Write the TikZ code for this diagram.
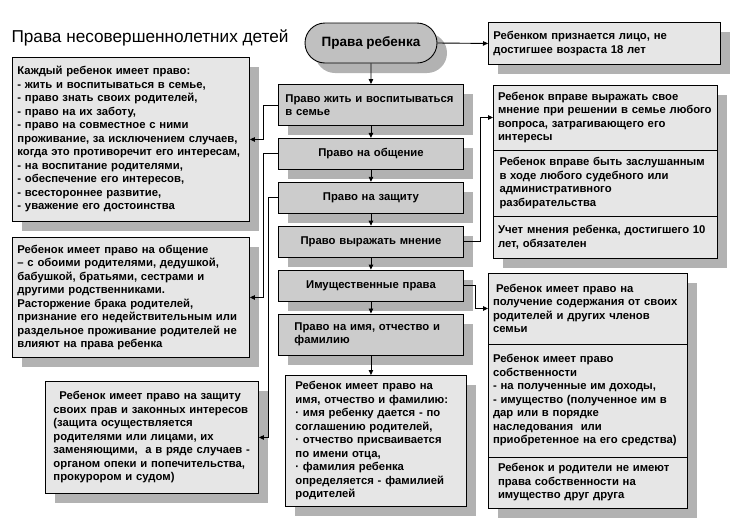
\documentclass[tikz,border=0pt]{standalone}
\usepackage{fontspec}
\setmainfont{Liberation Sans}
\usetikzlibrary{positioning,shadows,arrows.meta}
\definecolor{rootgrey}{HTML}{C0C0C0}
\definecolor{boxgrey}{HTML}{CCCCCC}
\definecolor{notegrey}{HTML}{E6E6E6}
\definecolor{shadowgrey}{HTML}{B2B2B2}
\tikzset{
	box shadow/.style = {
		drop shadow={shadow xshift=10pt, shadow yshift=-10pt,
			fill=shadowgrey, opacity=1}
	},
	every node/.style = {
		font=\bfseries\fontsize{11.3}{13.5}\selectfont
	},
	heading/.style = {
		anchor=west,
		font=\fontsize{17.2}{20}\selectfont
	},
	rootbox/.style = {
		shape=rectangle,
		draw,
		line width=0.9pt,
		rounded corners=20pt,
		fill=rootgrey,
		box shadow,
		minimum width=132pt,
		minimum height=40pt,
		font=\bfseries\fontsize{13.5}{16}\selectfont
	},
	rightbox/.style = {
		shape=rectangle,
		draw,
		line width=0.9pt,
		fill=boxgrey,
		box shadow,
		text width=175pt,
		inner xsep=5pt,
		align=center,
		minimum height=31pt
	},
	notebox/.style = {
		shape=rectangle,
		draw,
		line width=0.9pt,
		fill=notegrey,
		box shadow,
		anchor=north west,
		inner xsep=5pt,
		align=left
	},
	stackbox/.style = {
		notebox,
		outer sep=0pt
	},
	conn/.style = {
		draw,
		line width=0.9pt,
		-{Triangle[length=5pt,width=4.5pt]}
	}
}
\begin{document}
\begin{tikzpicture}[x=1pt, y=-1pt]
\useasboundingbox (0,0) rectangle (730,520);

\node[heading] (head) at (8,38) {Права несовершеннолетних детей};

% main column
\node[rootbox] (root) at (371,43) {Права ребенка};
\node[rightbox, anchor=north west, align=left, minimum height=41pt, inner xsep=7pt, text width=171pt] (c1) at (278,84)
	{Право жить и воспитываться\\в семье};
\node[rightbox, below=12pt of c1] (c2) {Право на общение};
\node[rightbox, below=12pt of c2] (c3) {Право на защиту};
\node[rightbox, below=12pt of c3] (c4) {Право выражать мнение};
\node[rightbox, below=12pt of c4] (c5) {Имущественные права};
\node[rightbox, below=12pt of c5, align=left, minimum height=41pt, inner xsep=16pt, text width=153pt] (c6)
	{Право на имя, отчество и\\фамилию};
\node[notebox, text width=161pt, inner xsep=10pt, minimum height=131pt] (name) at (285,375)
	{Ребенок имеет право на\\имя, отчество и фамилию:\\· имя ребенку дается - по\\соглашению родителей,\\· отчество присваивается\\по имени отца,\\· фамилия ребенка\\определяется - фамилией\\родителей};

% age
\node[notebox, text width=222pt, minimum height=42pt] (age) at (488,22)
	{Ребенком признается лицо, не\\достигшее возраста 18 лет};

% left notes
\node[notebox, text width=227pt, minimum height=164pt] (family) at (12,57)
	{Каждый ребенок имеет право:\\- жить и воспитываться в семье,\\- право знать своих родителей,\\- право на их заботу,\\- право на совместное с ними\\проживание, за исключением случаев,\\когда это противоречит его интересам,\\- на воспитание родителями,\\- обеспечение его интересов,\\- всестороннее развитие,\\- уважение его достоинства};
\node[notebox, text width=227pt, minimum height=120pt] (contact) at (12,237)
	{Ребенок имеет право на общение\\– с обоими родителями, дедушкой,\\бабушкой, братьями, сестрами и\\другими родственниками.\\Расторжение брака родителей,\\признание его недействительным или\\раздельное проживание родителей не\\влияют на права ребенка};
\node[notebox, text width=197pt, inner xsep=8pt, minimum height=112pt] (defence) at (45,381)
	{\hspace{6pt}Ребенок имеет право на защиту\\своих прав и законных интересов\\(защита осуществляется\\родителями или лицами, их\\заменяющими,\ \ а в ряде случаев -\\органом опеки и попечительства,\\прокурором и судом)};

% opinion group
\node[stackbox, text width=214pt, minimum height=65pt] (opinA) at (493,85)
	{Ребенок вправе выражать свое\\мнение при решении в семье любого\\вопроса, затрагивающего его\\интересы};
\node[stackbox, below=0pt of opinA, anchor=north, text width=211pt, inner xsep=6.5pt, minimum height=66pt] (opinB)
	{Ребенок вправе быть заслушанным\\в ходе любого судебного или\\административного\\разбирательства};
\node[stackbox, below=0pt of opinB, anchor=north, text width=214pt, minimum height=42pt] (opinC)
	{Учет мнения ребенка, достигшего 10\\лет, обязателен};

% property group
\node[stackbox, text width=189pt, minimum height=71pt] (propA) at (488,273)
	{\hspace{3pt}Ребенок имеет право на\\получение содержания от своих\\родителей и других членов\\семьи};
\node[stackbox, below=0pt of propA, anchor=north, text width=189pt, minimum height=113pt] (propB)
	{Ребенок имеет право\\собственности\\- на полученные им доходы,\\- имущество (полученное им в\\дар или в порядке\\наследования\ \ или\\приобретенное на его средства)};
\node[stackbox, below=0pt of propB, anchor=north, text width=179pt, inner xsep=10pt, minimum height=51pt] (propC)
	{Ребенок и родители не имеют\\права собственности на\\имущество друг друга};

% connectors
\draw[conn] (root.east) -- (age.west);
\draw[conn] (root.south) -- (c1.north);
\foreach \a/\b in {c1/c2, c2/c3, c3/c4, c4/c5, c5/c6}
	\draw[conn] (\a) -- (\b);
\draw[conn] (c6.south) -- (c6.south |- name.north);
\draw[conn] (c1.west) -- ++(-15pt,0pt) |- (family.east);
\draw[conn] (c2.west) -- ++(-15pt,0pt) |- (contact.east);
\draw[conn] (c3.west) -- ++(-10pt,0pt) |- (defence.east);
\draw[conn] (c4.east) -- ++(17pt,0pt) |- (opinA.west);
\draw[conn] (c5.east) -- ++(12pt,0pt) |- (propA.west);
\end{tikzpicture}
\end{document}
